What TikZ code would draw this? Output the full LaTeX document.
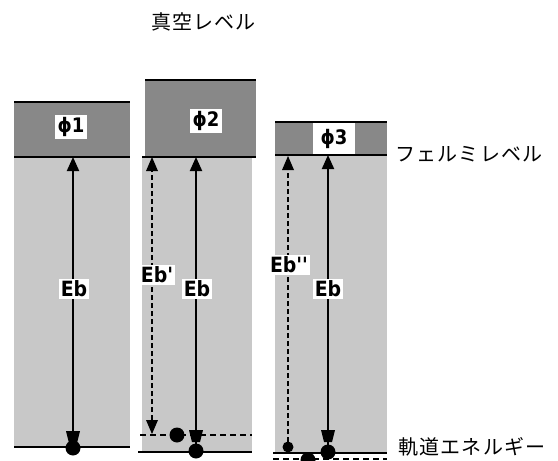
\documentclass[tikz,border=0pt]{standalone}
\usepackage{fontspec}
\usetikzlibrary{arrows.meta}
\newfontfamily\jpfont[LetterSpace=6]{Noto Sans CJK JP}
\newfontfamily\labfont{DejaVu Sans Condensed}
\definecolor{topgray}{HTML}{888888}
\definecolor{lowgray}{HTML}{C8C8C8}
\tikzset{
  topbox/.style={fill=topgray,draw=none},
  lowbox/.style={fill=lowgray,draw=none},
  edgeline/.style={line width=1.5pt},
  philab/.style={fill=white,inner sep=2.5pt,font=\labfont\bfseries\fontsize{20}{20}\selectfont},
  eblab/.style={fill=white,inner sep=1.5pt,font=\labfont\bfseries\fontsize{21}{21}\selectfont},
  jplab/.style={anchor=west,inner sep=0pt,font=\jpfont\fontsize{20}{20}\selectfont},
  solidarr/.style={line width=2pt,-{Triangle[width=12pt,length=14pt]}},
  dasharr/.style={line width=2.8pt,dash pattern=on 5pt off 3pt},
  bigdot/.style={circle,fill=black,inner sep=0pt,minimum size=15pt},
  smalldot/.style={circle,fill=black,inner sep=0pt,minimum size=11pt},
  levelline/.style={line width=1.5pt},
  dashlevel/.style={line width=2pt,dash pattern=on 6pt off 4pt},
}
\newcommand{\tailmark}[2]{\fill (#1-7,#2-17) -- (#1+7,#2-17) -- (#1+4,#2-5) -- (#1-4,#2-5) -- cycle;}
\begin{document}
\begin{tikzpicture}[x=1pt,y=-1pt]
\useasboundingbox (0,0) rectangle (558,461);
% ---------- column 1
\fill[lowbox] (14,157) rectangle (130,447);
\fill[topbox] (14,102) rectangle (130,157);
\draw[edgeline] (14,102) -- (130,102);
\draw[edgeline] (14,157) -- (130,157);
\node[philab] (p1) at (71,127) {ϕ1};
\coordinate (f1) at (73,157);
\draw[levelline] (14,447) -- (130,447);
\node[bigdot] (d1) at (73,448) {};
\tailmark{73}{448}
\draw[solidarr] (d1.center) -- (f1);
\node[eblab] (e1) at (74,289) {Eb};
% ---------- column 2
\fill[lowbox] (142,157) rectangle (252,452);
\fill[topbox] (145,80) rectangle (256,157);
\draw[edgeline] (145,80) -- (256,80);
\draw[edgeline] (142,157) -- (256,157);
\node[philab] (p2) at (206,121) {ϕ2};
\coordinate (f2) at (196,157);
\draw[dashlevel] (140,435) -- (252,435);
\draw[levelline] (138,452) -- (252,452);
\node[bigdot] (d2s) at (177,435) {};
\node[bigdot] (d2) at (196,451) {};
\tailmark{196}{447}
\draw[solidarr] (d2.center) -- (f2);
\draw[dasharr] (152,428) -- (152,168);
\fill (146,171) -- (158,171) -- (152,157) -- cycle;
\fill (146,420) -- (158,420) -- (152,434) -- cycle;
\node[eblab] (e2) at (197,289) {Eb};
\node[eblab] (e2b) at (157,275) {Eb'};
% ---------- column 3
\fill[lowbox] (275,155) rectangle (387,453);
\fill[topbox] (275,122) rectangle (387,155);
\draw[edgeline] (275,122) -- (387,122);
\node[philab,minimum width=42pt,minimum height=32pt] (p3) at (334,139) {ϕ3};
\draw[edgeline] (275,155) -- (387,155);
\coordinate (f3) at (328,155);
\draw[levelline] (273,453) -- (387,453);
\draw[dashlevel] (273,459) -- (387,459);
\node[smalldot] (d3b) at (288,447) {};
\node[bigdot] (d3m) at (308,460) {};
\node[bigdot] (d3) at (328,452) {};
\tailmark{328}{447}
\draw[solidarr] (d3.center) -- (f3);
\draw[dasharr] (288,442) -- (288,168);
\fill (282,170) -- (294,170) -- (288,156) -- cycle;
\node[eblab] (e3) at (328,289) {Eb};
\node[eblab] (e3b) at (289,265) {Eb''};
% ---------- texts
\node[jplab] (vac) at (151,22) {真空レベル};
\node[jplab] (fermi) at (395,154) {フェルミレベル};
\node[jplab] (orb) at (398,447) {軌道エネルギー};
\end{tikzpicture}
\end{document}
